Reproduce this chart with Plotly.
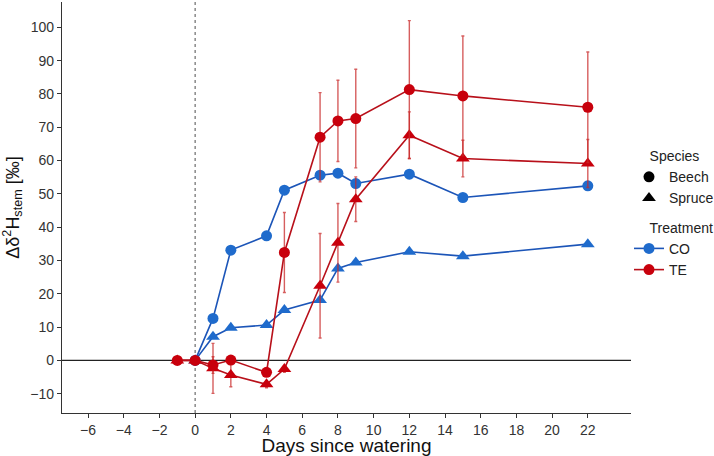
import plotly.graph_objects as go

# ---- data ----
days_co = [0, 1, 2, 4, 5, 7, 8, 9, 12, 15, 22]
beech_co = [0, 12.6, 33.1, 37.4, 51.1, 55.6, 56.2, 53.1, 55.9, 48.9, 52.4]
spruce_co = [0, 7.1, 9.8, 10.6, 15.1, 18.1, 27.6, 29.4, 32.6, 31.3, 34.9]

days_te = [-1, 0, 1, 2, 4, 5, 7, 8, 9, 12, 15, 22]
beech_te = [0, 0, -1.4, 0.1, -3.6, 32.4, 67.0, 71.9, 72.6, 81.3, 79.4, 76.0]
beech_te_err = [0.5, 0.3, 2.5, 1.0, 1.0, 12.0, 13.4, 12.2, 14.8, 20.7, 18.0, 16.6]
spruce_te = [0, 0, -2.4, -4.4, -7.2, -2.6, 22.4, 35.3, 48.4, 67.6, 60.6, 59.1]
spruce_te_err = [1.0, 0.3, 7.5, 3.5, 1.0, 1.0, 15.7, 11.8, 6.7, 7.0, 5.5, 7.2]

x_ticks = list(range(-6, 23, 2))
y_ticks = list(range(-10, 101, 10))

BLUE = "#1F6BCC"
BLUE_LINE = "#1C55B8"
RED = "#C8000C"
RED_LINE = "#B8101A"
ERR = "rgba(200,40,40,0.75)"

fig = go.Figure()

# reference lines
fig.add_hline(y=0, line=dict(color="#222222", width=1.2), layer="below")
fig.add_vline(x=0, line=dict(color="#777777", width=1.3, dash="dot"), layer="below")

def add_series(x, y, color, lcolor, symbol, size, err=None):
    fig.add_trace(go.Scatter(
        x=x, y=y, mode="lines+markers",
        line=dict(color=lcolor, width=1.6),
        marker=dict(color=color, symbol=symbol, size=size, line=dict(width=0)),
        error_y=(dict(type="data", array=err, visible=True, color=ERR,
                      thickness=1.4, width=1.5) if err is not None else None),
        showlegend=False, hoverinfo="x+y"))

add_series(days_co, spruce_co, BLUE, BLUE_LINE, "triangle-up", 12)
add_series(days_co, beech_co, BLUE, BLUE_LINE, "circle", 11)
add_series(days_te, spruce_te, RED, RED_LINE, "triangle-up", 12, spruce_te_err)
add_series(days_te, beech_te, RED, RED_LINE, "circle", 11, beech_te_err)

# legend entries
pad = "&nbsp;" * 4
fig.add_trace(go.Scatter(x=[None], y=[None], mode="markers", name="Beech",
                         marker=dict(color="black", symbol="circle", size=11),
                         legendgroup="sp", legendgrouptitle_text=pad + "Species"))
fig.add_trace(go.Scatter(x=[None], y=[None], mode="markers", name="Spruce",
                         marker=dict(color="black", symbol="triangle-up", size=12),
                         legendgroup="sp", legendgrouptitle_text=pad + "Species"))
fig.add_trace(go.Scatter(x=[None], y=[None], mode="lines+markers", name="CO",
                         marker=dict(color=BLUE, symbol="circle", size=11),
                         line=dict(color=BLUE_LINE, width=1.6),
                         legendgroup="tr", legendgrouptitle_text=pad + "Treatment"))
fig.add_trace(go.Scatter(x=[None], y=[None], mode="lines+markers", name="TE",
                         marker=dict(color=RED, symbol="circle", size=11),
                         line=dict(color=RED_LINE, width=1.6),
                         legendgroup="tr", legendgrouptitle_text=pad + "Treatment"))

axis_common = dict(showgrid=False, zeroline=False, showline=True,
                   linecolor="#333333", linewidth=1.3, ticks="outside",
                   tickcolor="#333333", ticklen=4, tickwidth=1.1,
                   tickfont=dict(size=14, color="#333333"))

fig.update_layout(
    width=714, height=456,
    margin=dict(l=62, r=83, t=2, b=43, autoexpand=False),
    paper_bgcolor="white", plot_bgcolor="white",
    font=dict(family="Liberation Sans, Arial, sans-serif", color="#222222"),
    xaxis=dict(range=[-7.46, 24.42], tickvals=x_ticks,
               title=dict(text="Days since watering", font=dict(size=19, color="#111111"), standoff=3),
               **axis_common),
    yaxis=dict(range=[-15.8, 107.6], tickvals=y_ticks,
               title=dict(text="Δδ<sup>2</sup>H<sub>stem</sub> [‰]", font=dict(size=18, color="#111111"), standoff=6),
               **axis_common),
    legend=dict(x=(631 - 62 - 2) / 569, xanchor="left", y=(413 - 140) / 411, yanchor="top",
                font=dict(size=14, color="#222222"),
                grouptitlefont=dict(size=14, color="#222222"),
                tracegroupgap=8, itemwidth=30, bgcolor="rgba(0,0,0,0)"),
    showlegend=True,
)

fig.write_html("out.html")
